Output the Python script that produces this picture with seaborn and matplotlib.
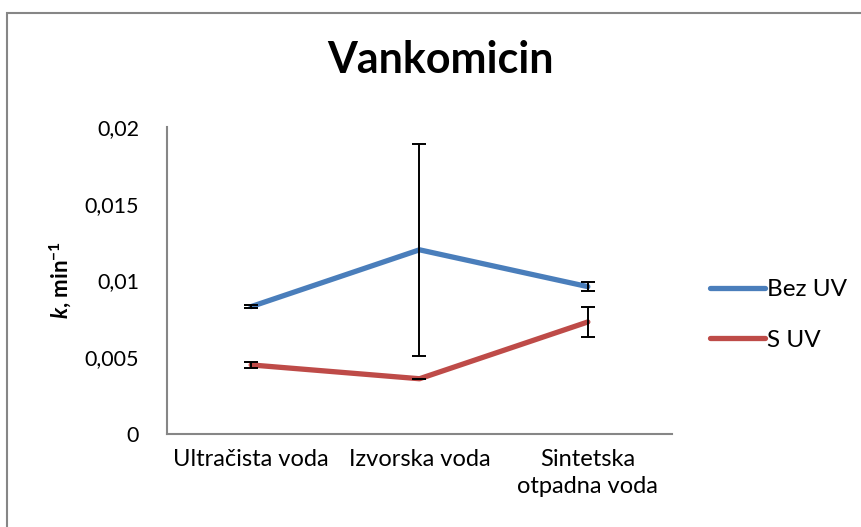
import numpy as np
import pandas as pd
import seaborn as sns
import matplotlib.pyplot as plt
from matplotlib.ticker import FuncFormatter
from matplotlib.patches import Rectangle

# podaci s grafa
vode = ["Ultračista voda", "Izvorska voda", "Sintetska\notpadna voda"]
bez_uv = [0.0083, 0.0120, 0.0096]
bez_uv_err = [0.0001, 0.0069, 0.0003]
s_uv = [0.0045, 0.0036, 0.0073]
s_uv_err = [0.0002, 0.0, 0.0010]
serije = ["Bez UV", "S UV"]
boje = ["#4A7EBB", "#BE4B48"]

sns.set_theme(style="white")
plt.rcParams["font.family"] = ["Lato", "DejaVu Sans"]
plt.rcParams["text.color"] = "black"
plt.rcParams["axes.labelcolor"] = "black"
plt.rcParams["mathtext.fontset"] = "custom"
plt.rcParams["mathtext.rm"] = "Lato"
plt.rcParams["mathtext.bf"] = "Lato:bold"
plt.rcParams["mathtext.it"] = "Lato:italic"
plt.rcParams["mathtext.bfit"] = "Lato:bold:italic"

df = pd.DataFrame({
    "voda": vode * 2,
    "k": bez_uv + s_uv,
    "serija": [serije[0]] * 3 + [serije[1]] * 3,
})

fig = plt.figure(figsize=(8.61, 5.27), dpi=100)
ax = fig.add_axes([167 / 861, 93 / 527, 505 / 861, 307 / 527])

sns.lineplot(data=df, x="voda", y="k", hue="serija", palette=boje,
             linewidth=3.8, sort=False, ax=ax, solid_capstyle="round")

x = np.arange(len(vode))
ax.errorbar(x, bez_uv, yerr=bez_uv_err, fmt="none", ecolor="black",
            elinewidth=1.4, capsize=5, capthick=1.4)
ax.errorbar(x, s_uv, yerr=s_uv_err, fmt="none", ecolor="black",
            elinewidth=1.4, capsize=5, capthick=1.4)

ax.set_xlim(-0.5, 2.5)
ax.set_ylim(0, 0.02)
ax.set_yticks([0, 0.005, 0.01, 0.015, 0.02])
ax.yaxis.set_major_formatter(FuncFormatter(lambda v, p: "0" if v == 0 else f"{v:g}".replace(".", ",")))
ax.tick_params(axis="both", length=0, colors="black")
ax.tick_params(axis="y", pad=20, labelsize=15.5)
ax.tick_params(axis="x", pad=11, labelsize=17)
for t in ax.get_xticklabels():
    t.set_linespacing(1.35)

for s in ["top", "right"]:
    ax.spines[s].set_visible(False)
for s in ["left", "bottom"]:
    ax.spines[s].set_color("#868686")
    ax.spines[s].set_linewidth(1.5)

ax.set_xlabel("")
ax.set_ylabel(r"$\mathbfit{k}$, min$^{\mathbf{-1}}$", fontsize=16, fontweight="bold")
ax.yaxis.set_label_coords(-0.185, 0.5)

handles, labels = ax.get_legend_handles_labels()
ax.legend(handles, labels, loc="center left", bbox_to_anchor=(710 / 861, 212 / 527),
          bbox_transform=fig.transFigure, frameon=False, fontsize=17.5,
          handlelength=2.25, handletextpad=0.1, labelspacing=1.2,
          borderpad=0, borderaxespad=0)

fig.text(440 / 861, 467 / 527, "Vankomicin", ha="center", va="center",
         fontsize=31, fontweight="bold")

# okvir grafa
fig.patches.append(Rectangle((7 / 861, -0.1), 1.2, (527 - 13) / 527 + 0.1,
                             transform=fig.transFigure, fill=False,
                             edgecolor="#868686", linewidth=1.5))

fig.savefig("out.png", dpi=100)
